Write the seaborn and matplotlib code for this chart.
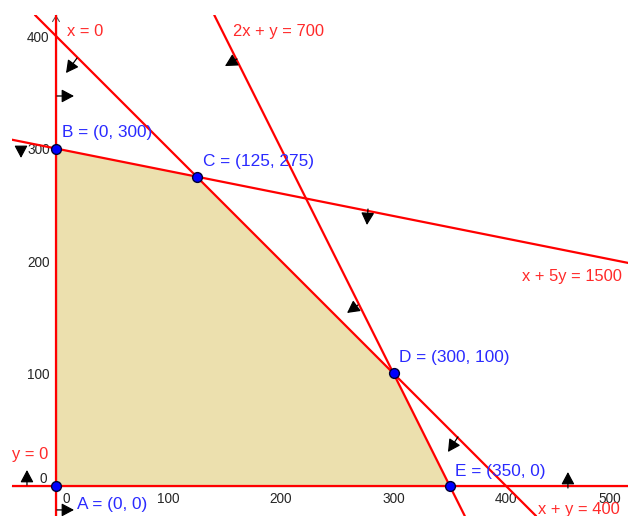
import matplotlib
matplotlib.use("Agg")
import matplotlib.pyplot as plt
import matplotlib.transforms as mtransforms
import pandas as pd
import seaborn as sns

# vertices of the feasible region
vertex_names = ["A", "B", "C", "D", "E"]
vertex_x = [0, 0, 125, 300, 350]
vertex_y = [0, 300, 275, 100, 0]

# constraint lines: two points on each line (intercepts) and their labels
line_labels = ["x = 0", "y = 0", "x + y = 400", "2x + y = 700", "x + 5y = 1500"]
line_p1 = [(0, 0), (0, 0), (0, 400), (0, 700), (0, 300)]
line_p2 = [(0, 1), (1, 0), (400, 0), (350, 0), (1500, 0)]
line_label_pos = [(9.8, 403.6), (-39.1, 27.6), (428.4, -21.3), (157.3, 403.6), (414.2, 185.8)]

# little arrows pointing into the half-planes (tail, head)
arrow_tail = [(18.7, 380.4), (0.9, 346.7), (160.9, 379.6), (-31.1, 300.4), (277.3, 246.2),
              (268.4, 160.9), (357.3, 43.6), (455, -1.8), (-25.8, 0.9), (0.9, -21.3)]
arrow_head = [(8.9, 367.1), (16, 346.7), (150.2, 373.3), (-31.1, 291.6), (276.4, 232),
              (258.7, 153.8), (348.4, 30.2), (455, 12.4), (-25.8, 14.2), (16, -21.3)]

# vertex label positions
vertex_label_pos = [(18.7, -16.9), (5.3, 313.8), (130.7, 288.9), (304.9, 113.8), (354.7, 13.3)]

x_ticks = [0, 100, 200, 300, 400, 500]
y_ticks = [0, 100, 200, 300, 400]

sns.set_style("white")
plt.rcParams["font.family"] = ["Liberation Sans", "DejaVu Sans"]

fig = plt.figure(figsize=(6.28, 5.16), dpi=100)
ax = fig.add_axes([12 / 628, 0, 616 / 628, 501 / 516])
ax.set_xlim(-39.1, 508.4)
ax.set_ylim(-26.7, 418.7)

df = pd.DataFrame({"name": vertex_names, "x": vertex_x, "y": vertex_y})

# feasible region
ax.fill(df["x"], df["y"], color="#ECE0AE", lw=0, zorder=1)

# constraint lines
for p1, p2 in zip(line_p1, line_p2):
    ax.axline(p1, p2, color="#FF0000", lw=1.6, zorder=3)
for lab, (lx, ly) in zip(line_labels, line_label_pos):
    ax.text(lx, ly, lab, color="#FF2A2A", fontsize=11.9, ha="left", va="center", zorder=5)

# arrows
for t, h in zip(arrow_tail, arrow_head):
    ax.annotate("", xy=h, xytext=t,
                arrowprops=dict(arrowstyle="-|>,head_length=0.75,head_width=0.4",
                                color="black", lw=0.9, mutation_scale=10,
                                shrinkA=0, shrinkB=0), zorder=4)

# vertices
sns.scatterplot(data=df, x="x", y="y", ax=ax, s=50, color="#0000FF",
                edgecolor="#000033", linewidth=1, zorder=6, clip_on=False)
for (lx, ly), n, vx, vy in zip(vertex_label_pos, vertex_names, vertex_x, vertex_y):
    ax.text(lx, ly, f"{n} = ({vx}, {vy})", color="#2A2AFF", fontsize=12.4,
            ha="left", va="center", zorder=5)

# axes through the origin
for s in ["top", "right"]:
    ax.spines[s].set_visible(False)
ax.spines["left"].set_position(("data", 0))
ax.spines["bottom"].set_position(("data", 0))
ax.spines["left"].set_color("black")
ax.spines["bottom"].set_color("black")
ax.spines["left"].set_linewidth(0.8)
ax.spines["bottom"].set_linewidth(0.8)
ax.set_xticks(x_ticks)
ax.set_yticks(y_ticks)
ax.set_xticklabels([str(v) for v in x_ticks])
ax.set_yticklabels([str(v) for v in y_ticks])
ax.tick_params(direction="inout", length=5, width=0.8, color="black",
               labelsize=9.8, pad=2)
ax.set_xlabel("")
ax.set_ylabel("")

# origin labels sit off the axes, like in the original
xl0 = ax.xaxis.get_major_ticks()[0].label1
xl0.set_transform(xl0.get_transform() + mtransforms.ScaledTranslation(0.10, 0, fig.dpi_scale_trans))
yl0 = ax.yaxis.get_major_ticks()[0].label1
yl0.set_transform(yl0.get_transform() + mtransforms.ScaledTranslation(-0.03, 0.08, fig.dpi_scale_trans))
# last x label would run off the right edge; keep it inside
xl5 = ax.xaxis.get_major_ticks()[-1].label1
xl5.set_transform(xl5.get_transform() + mtransforms.ScaledTranslation(-0.09, 0, fig.dpi_scale_trans))

# little arrow tip at top of the y axis
ax.annotate("", xy=(0, 418.7), xytext=(0, 405),
            arrowprops=dict(arrowstyle="->,head_length=0.4,head_width=0.25",
                            color="#555555", lw=0.8, mutation_scale=10,
                            shrinkA=0, shrinkB=0), zorder=2, annotation_clip=False)

fig.savefig("out.png", dpi=100)
